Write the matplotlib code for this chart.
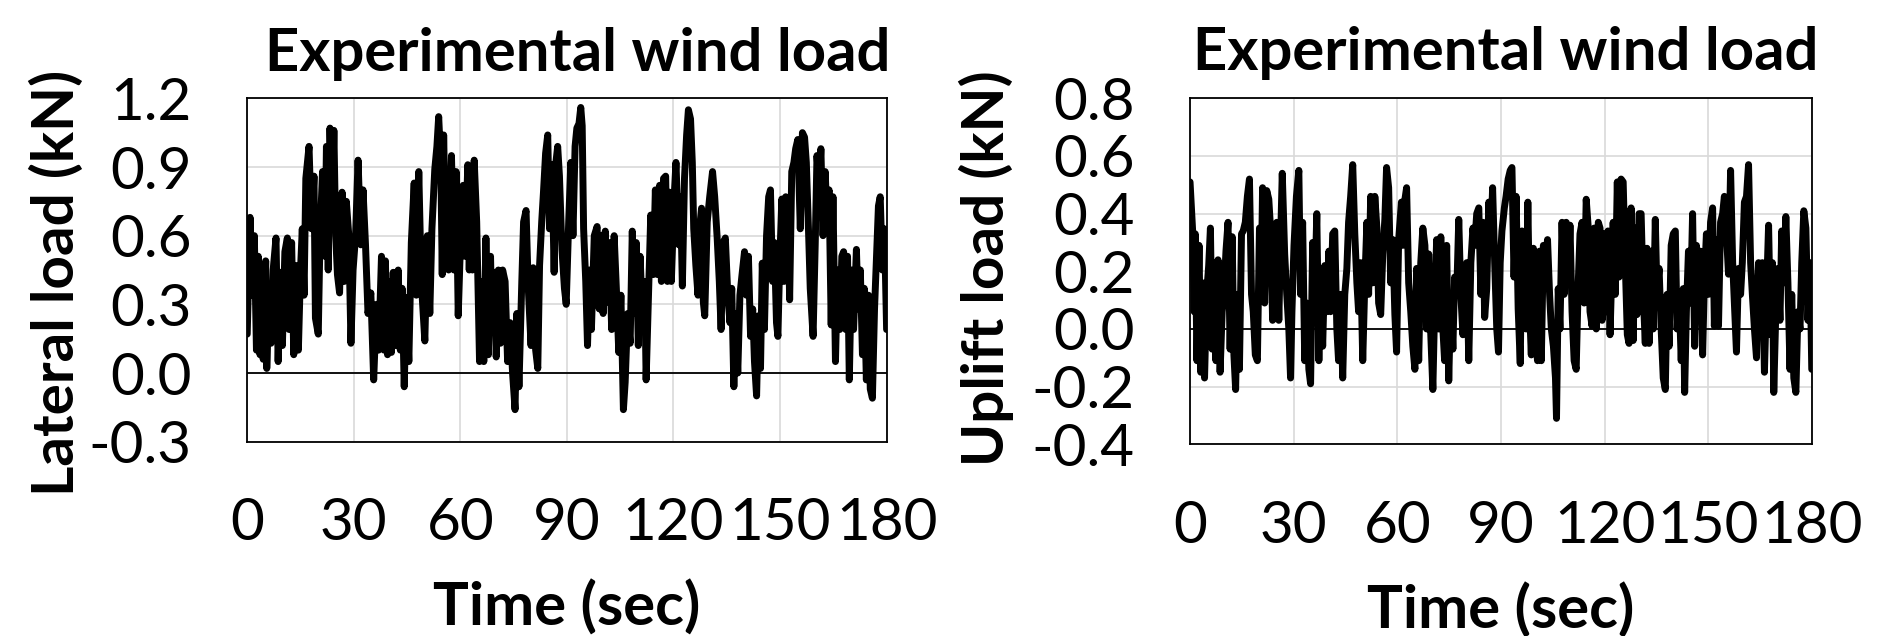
import matplotlib
matplotlib.use("Agg")
import matplotlib.pyplot as plt
from matplotlib.ticker import FormatStrFormatter

# ---------------- data ----------------
lat_t = [0.0, 0.8, 1.4, 2.0, 2.6, 3.1, 3.6, 4.0, 4.5, 5.2, 5.5, 6.1, 6.7, 7.3, 8.1, 8.7, 9.4, 9.9, 10.6, 11.3,
         11.8, 12.5, 13.1, 13.7, 14.4, 15.0, 15.5, 16.0, 16.5, 17.4, 18.1, 18.8, 19.2, 20.0, 20.5, 21.2, 21.9,
         22.3, 22.8, 23.3, 23.9, 24.4, 24.9, 25.4, 26.0, 26.7, 27.3, 27.9, 28.6, 29.2, 29.8, 30.5, 31.2, 32.0,
         32.6, 33.3, 34.0, 34.8, 35.6, 36.4, 37.0, 37.8, 38.5, 38.9, 39.5, 40.0, 40.6, 41.1, 41.7, 42.5, 43.1,
         43.6, 44.2, 44.8, 45.5, 46.2, 47.0, 47.6, 48.3, 49.0, 50.0, 50.7, 51.4, 52.0, 52.8, 53.4, 53.9, 54.5,
         54.9, 55.3, 55.8, 56.4, 56.7, 57.5, 58.2, 58.8, 59.4, 60.1, 60.8,
         61.3, 62.1, 62.5, 63.0, 63.4, 63.9, 64.6, 65.4, 66.0, 66.6, 67.2, 67.9, 68.5, 68.9, 69.6, 70.1, 70.7,
         71.3, 71.9, 72.6, 73.3, 74.0, 74.7, 75.4, 75.9, 76.5, 77.3, 77.8, 78.5, 79.1, 79.9, 80.5, 81.2, 81.8,
         82.3, 82.9, 83.4, 84.0, 84.6, 85.1, 85.8, 86.4, 86.9, 87.4, 87.9, 88.6, 89.3, 89.8, 90.5, 91.1, 91.7,
         92.3, 92.8, 93.4, 93.9, 94.3, 94.7, 95.3, 95.8, 96.4, 96.9, 97.7, 98.5, 99.1, 99.8, 100.2, 100.8,
         101.4, 101.9, 102.6, 103.3, 104.0, 104.6, 105.2, 105.9, 106.4, 107.1, 107.8, 108.4, 109.0, 109.5,
         110.1, 110.6, 111.4, 111.9, 112.3, 112.9, 113.6, 114.3, 114.9, 115.5, 116.1, 116.6, 117.2, 117.8,
         118.3, 118.9, 119.4, 120.2, 120.7,
         121.5, 122.0, 122.5, 123.1, 123.7, 124.2, 124.8, 125.3, 125.7, 126.3, 126.9, 127.4, 127.9, 128.4,
         128.8, 129.5, 130.2, 131.0, 131.6, 132.3, 132.9, 133.4, 134.0, 134.6, 135.3, 135.9, 136.4, 137.0,
         137.5, 138.1, 138.7, 139.3, 140.0, 140.5, 141.1, 141.7, 142.3, 142.8, 143.4, 143.9, 144.5, 145.0,
         145.6, 146.2, 146.8, 147.3, 147.9, 148.4, 149.0, 149.4, 149.9, 150.5, 151.1, 151.6, 152.2, 152.7,
         153.3, 153.9, 154.4, 155.0, 155.7, 156.3, 156.9, 157.4, 158.0, 158.5, 159.3, 159.9, 160.4, 161.0,
         161.5, 162.1, 162.7, 163.2, 163.8, 164.4, 164.9, 165.6, 166.2, 166.8, 167.4, 167.9, 168.5, 169.0,
         169.5, 170.1, 170.7, 171.5, 172.0, 172.6, 173.2, 173.7, 174.3, 174.9, 175.4, 176.0, 176.6, 177.1,
         177.7, 178.2, 178.8, 179.4, 180.0]
lat_kN = [0.17, 0.68, 0.34, 0.60, 0.10, 0.51, 0.08, 0.34, 0.06, 0.49, 0.02, 0.31, 0.13, 0.45, 0.59, 0.05, 0.44,
          0.12, 0.53, 0.59, 0.19, 0.57, 0.08, 0.47, 0.10, 0.45, 0.63, 0.34, 0.85, 0.99, 0.63, 0.86, 0.24, 0.17,
          0.60, 0.88, 0.51, 0.99, 0.45, 1.07, 0.70, 1.06, 0.60, 0.43, 0.35, 0.79, 0.40, 0.75, 0.60, 0.13, 0.45,
          0.60, 0.93, 0.56, 0.80, 0.56, 0.26, 0.35, -0.03, 0.30, 0.10, 0.51, 0.10, 0.49, 0.08, 0.40, 0.09, 0.44,
          0.12, 0.45, 0.10, 0.37, -0.06, 0.33, 0.05, 0.57, 0.83, 0.34, 0.88, 0.40, 0.14, 0.60, 0.26, 0.63, 0.89,
          0.99, 1.12, 0.92, 0.43, 1.04, 0.63, 0.88, 0.45, 0.95, 0.45, 0.88, 0.25, 0.60, 0.82,
          0.51, 0.91, 0.45, 0.88, 0.45, 0.93, 0.66, 0.05, 0.40, 0.05, 0.59, 0.08, 0.51, 0.18, 0.44, 0.07, 0.45,
          0.13, 0.45, 0.40, 0.05, 0.22, 0.00, -0.16, 0.26, -0.06, 0.40, 0.66, 0.71, 0.38, 0.12, 0.46, 0.10, 0.02,
          0.47, 0.66, 0.79, 0.96, 1.04, 0.63, 0.91, 0.44, 0.92, 0.99, 0.86, 0.54, 0.37, 0.30, 0.66, 0.92, 0.60,
          0.99, 1.07, 1.09, 1.16, 1.08, 0.63, 0.40, 0.12, 0.45, 0.19, 0.60, 0.64, 0.28, 0.60, 0.26, 0.62,
          0.31, 0.57, 0.19, 0.60, 0.34, 0.09, 0.34, -0.16, -0.04, 0.26, 0.13, 0.62, 0.26, 0.57,
          0.12, 0.51, 0.19, 0.40, -0.03, 0.31, 0.69, 0.43, 0.80, 0.43, 0.82, 0.40, 0.85, 0.86,
          0.40, 0.79, 0.40, 0.77, 0.92,
          0.56, 0.77, 0.38, 0.85, 1.04, 1.15, 1.11, 0.92, 0.63, 0.47, 0.34, 0.64, 0.72, 0.31,
          0.25, 0.66, 0.77, 0.88, 0.77, 0.59, 0.40, 0.19, 0.57, 0.59, 0.34, 0.22, 0.37, -0.06,
          0.26, 0.00, 0.34, 0.43, 0.53, 0.34, 0.51, 0.16, 0.28, 0.05, -0.10, 0.25, 0.02, 0.48,
          0.19, 0.60, 0.77, 0.80, 0.40, 0.57, 0.22, 0.16, 0.48, 0.76, 0.40, 0.77, 0.76, 0.32,
          0.88, 0.92, 0.98, 1.02, 0.63, 1.05, 1.03, 0.92, 0.63, 0.37, 0.16, 0.56, 0.95, 0.82,
          0.98, 0.60, 0.88, 0.69, 0.80, 0.21, 0.77, 0.05, 0.45, 0.19, 0.51, 0.53, 0.19, 0.51,
          -0.03, 0.45, 0.19, 0.54, 0.28, 0.45, 0.08, 0.37, -0.03, 0.34, -0.07, -0.11, 0.28, 0.48,
          0.73, 0.77, 0.45, 0.63, 0.19]

upl_t = [0.0, 0.8, 1.2, 1.5, 2.0, 2.6, 3.1, 3.7, 4.2, 4.8, 5.4, 5.9, 6.4, 6.9, 7.5, 8.1, 8.7, 9.3, 9.8, 10.4,
         11.0, 11.6, 12.2, 12.7, 13.2, 13.7, 14.3, 14.9, 15.4, 16.0, 16.6, 17.2, 17.8, 18.3, 18.9, 19.5, 20.1,
         20.6, 21.0, 21.6, 22.2, 22.8, 23.4, 23.9, 24.5, 25.1, 25.7, 26.3, 26.7, 27.4, 28.0, 28.6, 29.1, 29.5,
         30.1, 30.8, 31.5, 32.0, 32.6, 33.2, 33.8, 34.4, 34.9, 35.5, 36.1, 36.7, 37.3, 37.8, 38.4, 39.0, 39.6,
         40.2, 40.7, 41.3, 41.9, 42.5, 43.0, 43.6, 44.2, 44.8, 45.4, 45.9, 46.5, 47.1, 47.7, 48.3, 48.8, 49.4,
         50.0, 50.6, 51.2, 51.7, 52.3, 52.9, 53.5, 54.1, 54.6, 55.2, 55.8, 56.4, 56.9, 57.5, 58.1, 58.7, 59.3,
         59.8, 60.4, 61.2,
         61.6, 62.1, 62.7, 63.3, 63.9, 64.5, 65.1, 65.6, 66.2, 66.8, 67.4, 68.0, 68.5, 69.1, 69.7, 70.3, 70.9,
         71.4, 72.0, 72.6, 73.2, 73.7, 74.3, 74.9, 75.5, 76.1, 76.6, 77.2, 77.8, 78.4, 79.0, 79.5, 80.1, 80.7,
         81.3, 81.9, 82.4, 83.0, 83.6, 84.2, 84.8, 85.3, 85.9, 86.5, 87.1, 87.6, 88.2, 88.8, 89.3, 89.8, 90.3,
         91.0, 91.5, 92.1, 92.7, 93.2, 93.8, 94.4, 95.0, 95.6, 96.1, 96.7, 97.3, 97.8, 98.3, 98.8, 99.4, 100.0,
         100.6, 101.2, 101.7, 102.3, 102.9, 103.5, 104.1, 104.6, 105.2, 105.8, 106.1, 106.6, 107.1, 107.7,
         108.3, 108.9, 109.5, 110.0, 110.6, 111.2, 111.8, 112.4, 112.9, 113.5, 114.1, 114.7, 115.3, 115.8,
         116.4, 117.0, 117.6, 118.2, 118.7, 119.3, 119.9,
         120.5, 121.0, 121.6, 122.5, 123.1, 123.7, 124.2, 124.8, 125.4, 126.0, 126.6, 127.1, 127.7, 128.3,
         128.9, 129.4, 130.0, 130.6, 131.2, 131.8, 132.3, 132.9, 133.5, 134.1, 134.7, 135.2, 135.8, 136.4,
         137.0, 137.6, 138.1, 138.7, 139.3, 139.9, 140.5, 141.0, 141.6, 142.2, 142.8, 143.2, 143.7, 144.3,
         144.9, 145.5, 146.1, 146.6, 147.2, 147.8, 148.4, 148.9, 149.5, 150.1, 150.7, 151.3, 151.8, 152.4,
         153.0, 153.6, 154.2, 154.7, 155.3, 155.9, 156.5, 157.1, 157.6, 158.2, 158.8, 159.4, 159.9, 160.5,
         161.1, 161.7, 162.3, 162.8, 163.4, 164.0, 164.6, 165.2, 165.7, 166.3, 166.9, 167.5, 168.1, 168.6,
         169.0, 169.6, 170.2, 170.8, 171.3, 171.9, 172.5, 173.1, 173.7, 174.2, 174.8, 175.4, 176.0, 176.6,
         177.1, 177.7, 178.3, 178.9, 179.5, 180.0]
upl_kN = [0.51, 0.33, 0.06, 0.33, -0.11, 0.29, -0.15, 0.16, -0.17, 0.12, 0.22, 0.35, -0.07, 0.23, -0.11, 0.24,
          -0.15, 0.06, 0.12, 0.27, 0.37, -0.07, 0.32, -0.09, -0.21, 0.12, -0.14, 0.33, 0.34, 0.37, 0.46, 0.52,
          0.12, 0.06, -0.09, -0.11, 0.35, 0.16, 0.49, 0.09, 0.48, 0.45, 0.33, 0.03, 0.09, 0.37, 0.03, 0.35, 0.54,
          0.26, 0.12, 0.00, -0.17, 0.06, 0.29, 0.46, 0.55, 0.12, 0.37, -0.11, 0.09, -0.14, -0.19, 0.30, 0.12,
          0.40, -0.11, 0.21, -0.06, 0.22, 0.06, 0.27, 0.06, 0.33, 0.34, 0.00, -0.11, 0.12, -0.17, 0.12, 0.21,
          0.37, 0.46, 0.57, 0.33, 0.16, 0.06, 0.23, -0.11, 0.16, 0.37, 0.12, 0.46, 0.16, 0.46, 0.35, 0.09, 0.05,
          0.26, 0.38, 0.56, 0.49, 0.16, 0.31, 0.05, -0.08, 0.31, 0.44,
          0.29, 0.44, 0.49, 0.16, 0.06, -0.06, -0.14, 0.21, -0.11, 0.23, 0.35, 0.29, 0.00, 0.26, -0.02, -0.21,
          0.12, 0.31, 0.00, 0.32, 0.00, -0.11, 0.29, -0.18, 0.12, -0.07, 0.18, 0.12, 0.38, 0.12, -0.02, 0.07,
          0.23, -0.11, 0.23, 0.35, 0.29, 0.40, 0.42, 0.12, 0.37, 0.04, 0.14, 0.44, 0.31, 0.49, 0.23, 0.00,
          -0.08, 0.23, 0.34, 0.42, 0.46, 0.52, 0.55, 0.56, 0.18, 0.46, 0.07, -0.12, 0.34, 0.12, 0.00, 0.44,
          0.07, -0.09, 0.28, -0.02, -0.11, 0.27, -0.11, 0.29, 0.23, 0.31, 0.12, 0.00, -0.06, -0.17, -0.31,
          0.14, 0.00, 0.37, 0.12, 0.37, 0.16, 0.36, 0.06, -0.11, -0.14, 0.16, 0.33, 0.37, 0.09, 0.45, 0.35,
          0.06, 0.01, 0.35, 0.00, 0.37, 0.35, 0.03, 0.33,
          0.06, 0.34, -0.02, 0.37, 0.12, 0.51, 0.18, 0.52, 0.51, 0.23, -0.02, -0.05, 0.42, -0.04, 0.35, 0.05,
          0.40, 0.40, 0.12, -0.05, 0.28, -0.05, 0.27, 0.00, 0.38, 0.12, 0.21, 0.00, -0.17, -0.21, 0.12, -0.06,
          0.29, 0.33, 0.34, 0.00, 0.12, -0.11, 0.14, -0.22, 0.06, 0.27, 0.09, 0.40, -0.06, 0.29, 0.16, 0.27,
          -0.09, 0.16, 0.33, 0.12, 0.37, 0.42, 0.01, 0.31, 0.01, 0.37, 0.40, 0.46, 0.33, 0.19, 0.55, 0.23,
          0.09, -0.08, 0.21, 0.12, 0.23, 0.44, 0.46, 0.57, 0.23, 0.12, 0.00, -0.10, 0.23, 0.08, 0.23, -0.15,
          0.12, 0.36, -0.02, 0.23, -0.22, 0.06, 0.21, 0.03, 0.34, 0.16, 0.39, 0.16, -0.14, 0.12, -0.17, -0.22,
          0.06, 0.00, 0.23, 0.41, 0.35, 0.03, 0.23, -0.14]

x_ticks = [0, 30, 60, 90, 120, 150, 180]
lat_yticks = [-0.3, 0.0, 0.3, 0.6, 0.9, 1.2]
upl_yticks = [-0.4, -0.2, 0.0, 0.2, 0.4, 0.6, 0.8]
title_text = "Experimental wind load"
xlabel_text = "Time (sec)"
lat_ylabel = "Lateral load (kN)"
upl_ylabel = "Uplift load (kN)"

# ---------------- drawing ----------------
plt.rcParams['font.family'] = ['Lato', 'DejaVu Sans']

fig = plt.figure(figsize=(18.8, 6.36), dpi=100)
ax1 = fig.add_axes([0.1315, 0.3055, 0.3401, 0.5399])
ax2 = fig.add_axes([0.6330, 0.3014, 0.3307, 0.5440])

TICK_FS = 42
LABEL_FS = 42
XLABEL_FS = 43
TITLE_FS = 43


def style(ax, t, v, yticks, ylabel, title_x, ylab_x, ylab_y):
    ax.plot(t, v, color='black', lw=5.0, solid_joinstyle='round', solid_capstyle='round', zorder=3)
    ax.axhline(0, color='black', lw=1.3, zorder=2)
    ax.set_xlim(x_ticks[0], x_ticks[-1])
    ax.set_ylim(yticks[0], yticks[-1])
    ax.set_xticks(x_ticks)
    ax.set_yticks(yticks)
    ax.yaxis.set_major_formatter(FormatStrFormatter('%.1f'))
    ax.grid(True, color='#d9d9d9', lw=1.2, zorder=0)
    ax.set_axisbelow(True)
    ax.tick_params(axis='both', length=0, labelsize=TICK_FS)
    ax.tick_params(axis='x', pad=40)
    ax.tick_params(axis='y', pad=40)
    for s in ax.spines.values():
        s.set_color('black')
        s.set_linewidth(1.3)
    ax.set_xlabel(xlabel_text, fontsize=XLABEL_FS, fontweight='bold')
    ax.xaxis.set_label_coords(0.5, -0.40)
    ax.set_ylabel(ylabel, fontsize=LABEL_FS, fontweight='bold')
    ax.yaxis.set_label_coords(ylab_x, ylab_y)
    ax.text(title_x, 1.13, title_text, transform=ax.transAxes, ha='center', va='center',
            fontsize=TITLE_FS, fontweight='bold')


style(ax1, lat_t, lat_kN, lat_yticks, lat_ylabel, 0.517, -0.256, 0.462)
style(ax2, upl_t, upl_kN, upl_yticks, upl_ylabel, 0.507, -0.283, 0.51)

fig.savefig('out.png', dpi=100)
